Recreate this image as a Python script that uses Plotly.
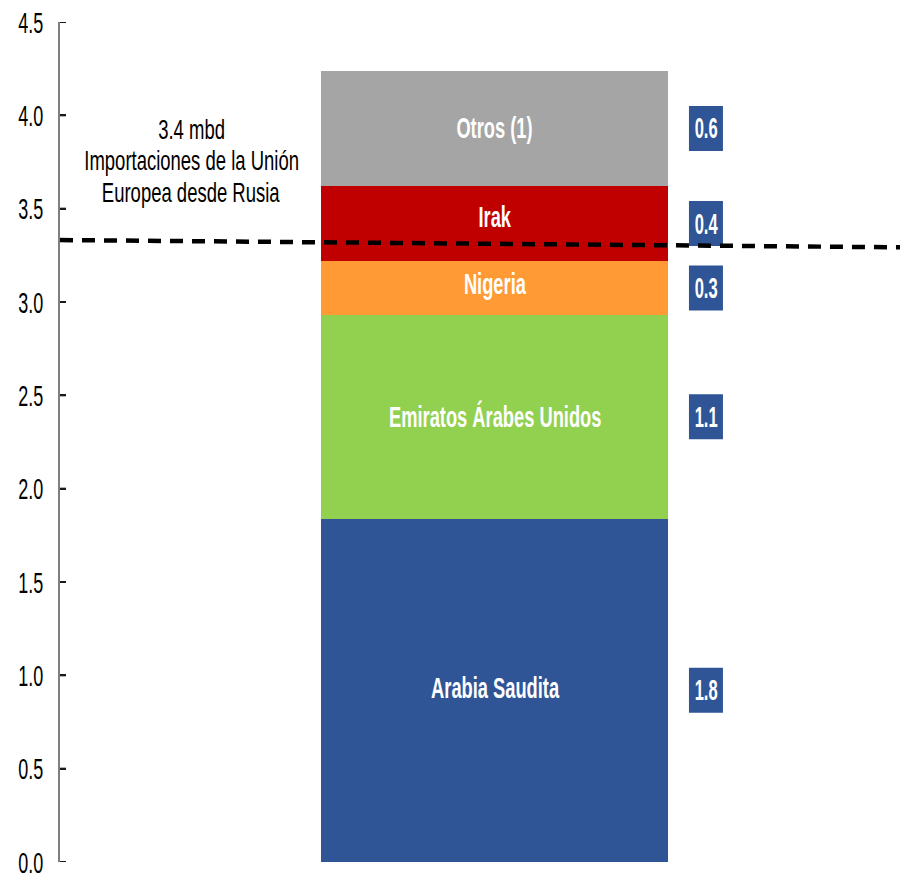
import plotly.graph_objects as go

# Oil supply sources (million barrels per day), stacked bottom to top
sources = ["Arabia Saudita", "Emiratos Árabes Unidos", "Nigeria", "Irak", "Otros (1)"]
volumes = [1.84, 1.09, 0.29, 0.40, 0.62]
colors = ["#2F5597", "#92D050", "#FF9A35", "#C00000", "#A5A5A5"]

# EU imports from Russia reference line (left and right ends)
ref_line_y = [3.332, 3.293]
ref_text = ["3.4 mbd", "Importaciones de la Unión", "Europea desde Rusia"]
ref_text_y = [3.925, 3.757, 3.585]

y_ticks = [0.0, 0.5, 1.0, 1.5, 2.0, 2.5, 3.0, 3.5, 4.0, 4.5]

FONT = "Liberation Sans, Arial, sans-serif"
BAR_X = 0.5173
BAR_W = 0.413
BOX_X = 0.769
CAPTION_X = 0.1565
BOX_BLUE = "#2F5597"
# small upward pixel nudges for the segment names
LABEL_NUDGE = [3, 0, 5, 7, 1]

fig = go.Figure()
for name, v, c in zip(sources, volumes, colors):
    fig.add_trace(go.Bar(
        x=[BAR_X], y=[v], width=[BAR_W], name=name,
        marker=dict(color=c, line=dict(width=0)),
        hoverinfo="skip",
    ))

# segment names and value boxes
base = 0.0
for name, v, nudge in zip(sources, volumes, LABEL_NUDGE):
    mid = base + v / 2
    fig.add_annotation(
        x=BAR_X, y=mid, xref="x", yref="y", yshift=nudge,
        text=f"<b>{name}</b>", showarrow=False,
        font=dict(family=FONT, size=30, color="white"),
    )
    fig.add_shape(
        type="rect", xref="x", yref="y",
        xsizemode="pixel", ysizemode="pixel",
        xanchor=BOX_X, yanchor=mid,
        x0=-17, x1=17, y0=-22.5, y1=22.5,
        fillcolor=BOX_BLUE, line=dict(width=0), layer="above",
    )
    fig.add_annotation(
        x=BOX_X, y=mid, xref="x", yref="y",
        text=f"<b>{v:.1f}</b>", showarrow=False,
        font=dict(family=FONT, size=29, color="white"),
    )
    base += v

# dashed reference line
fig.add_shape(type="line", xref="paper", yref="y",
              x0=0, x1=1, y0=ref_line_y[0], y1=ref_line_y[1],
              line=dict(color="black", width=4.5, dash="13px,9px"))

# short inward tick marks on the value axis
for t in y_ticks:
    fig.add_shape(type="line", xref="paper", yref="y",
                  xsizemode="pixel", xanchor=0, x0=0, x1=6,
                  y0=t, y1=t, line=dict(color="#1a1a1a", width=2))

# three-line caption
for t, yy in zip(ref_text, ref_text_y):
    fig.add_annotation(
        x=CAPTION_X, xref="paper", xanchor="center",
        y=yy, yref="y", yanchor="middle",
        text=t, showarrow=False,
        font=dict(family=FONT, size=28, color="black"),
    )

fig.update_layout(
    barmode="stack", showlegend=False,
    width=900, height=875,
    margin=dict(l=60, r=0, t=22, b=13, autoexpand=False),
    plot_bgcolor="white", paper_bgcolor="white",
    font=dict(family=FONT, color="black"),
    bargap=0,
)
fig.update_xaxes(range=[0, 1], visible=False, fixedrange=True)
fig.update_yaxes(
    range=[0, 4.5], tickvals=y_ticks, tickformat=".1f",
    showgrid=False, zeroline=False, automargin=False,
    showline=True, linecolor="#7f7f7f", linewidth=1.5,
    ticks="inside", ticklen=6, tickcolor="#1a1a1a", tickwidth=2,
    ticklabelstandoff=9, ticklabeloverflow="allow",
    tickfont=dict(family=FONT, size=30, color="black"),
)

# condensed lettering: squeeze each text horizontally about its anchor
condense_js = """
var gd = document.querySelector('.js-plotly-plot');
function squeeze(t, s) {
  var b = t.getBBox();
  var a = t.getAttribute('text-anchor') || t.style.textAnchor || 'start';
  var cx = a === 'middle' ? b.x + b.width / 2 : (a === 'end' ? b.x + b.width : b.x);
  var tr = t.getAttribute('transform') || '';
  t.setAttribute('transform', tr + ' translate(' + cx + ',0) scale(' + s + ',1) translate(' + (-cx) + ',0)');
}
gd.querySelectorAll('g.ytick text').forEach(function (t) { squeeze(t, 0.6); });
gd.querySelectorAll('text.annotation-text').forEach(function (t) {
  var txt = t.textContent.trim();
  var white = (t.style.fill || '').indexOf('255, 255, 255') >= 0;
  if (/^\\d\\.\\d$/.test(txt)) { squeeze(t, 0.57); }
  else if (white) { squeeze(t, 0.61); }
  else { squeeze(t, 0.66); }
});
"""

fig.write_html("out.html", post_script=condense_js)
